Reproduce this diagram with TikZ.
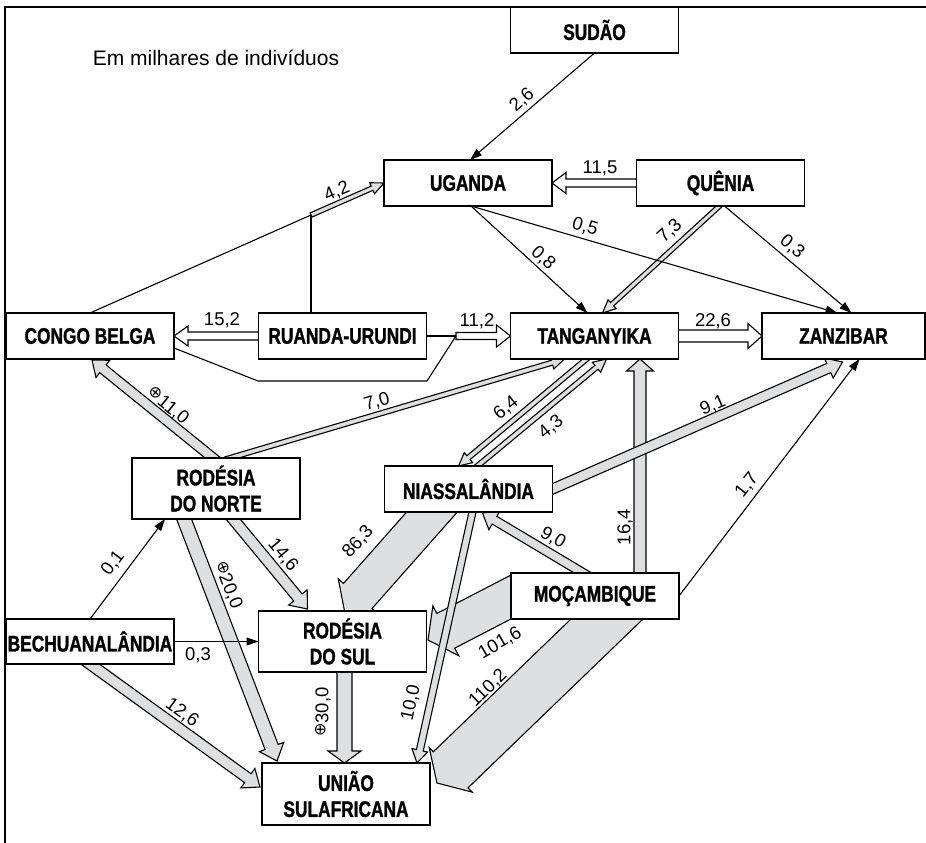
\documentclass[tikz,border=0pt]{standalone}
\usepackage{fontspec}
\setmainfont{Liberation Sans}
\newfontfamily\boxfont[FakeStretch=0.77,FakeBold=1.2]{Liberation Sans}
\newfontfamily\symfont{DejaVu Sans}
\usetikzlibrary{calc,arrows.meta}
\definecolor{arrgray}{RGB}{222,223,225}
\pgfdeclarelayer{bg}
\pgfsetlayers{bg,main}
% #1 style, #2 start, #3 end, #4 half body, #5 half head, #6 head length, #7 back extension
\newcommand\fatarr[7]{%
 \draw[#1] ($#2!-#7!#3!#4!90:#3$) -- ($#3!#6!#2!#4!90:#3$) -- ($#3!#6!#2!#5!90:#3$) -- #3
   -- ($#3!#6!#2!#5!-90:#3$) -- ($#3!#6!#2!#4!-90:#3$) -- ($#2!-#7!#3!#4!-90:#3$) -- cycle;}
\newcommand\opl{\raisebox{3pt}{\symfont\fontsize{16}{16}\selectfont ⊕}}
\begin{document}
\begin{tikzpicture}[x=1pt,y=-1pt,
  box/.style={draw,line width=1.3pt,fill=white,inner sep=0pt,outer sep=0pt,
    minimum width=168pt,minimum height=46pt,align=center,
    font={\boxfont\bfseries\fontsize{22.5pt}{26pt}\selectfont}},
  tallbox/.style={box,minimum height=61pt},
  lab/.style={inner sep=0pt,font={\fontsize{18.5pt}{18.5pt}\selectfont}},
  thin/.style={line width=1.1pt,-{Triangle[length=12pt,width=8pt]}},
  ln/.style={line width=1.1pt},
  gfill/.style={draw,line width=1.1pt,fill=arrgray,line join=miter},
  wfill/.style={draw,line width=1.1pt,fill=white,line join=miter}]
\useasboundingbox (0,0) rectangle (926,843);
% frame
\draw[line width=1.6pt] (5,843) -- (5,7) -- (926,7);
% boxes
\node[box] (sudan) at (594.5,30) {SUDÃO};
\node[box] (uganda) at (468,183) {UGANDA};
\node[box] (quenia) at (720.5,183) {QUÊNIA};
\node[box] (congo) at (90,336) {CONGO BELGA};
\node[box] (ruanda) at (342.5,336) {RUANDA-URUNDI};
\node[box] (tang) at (594.5,336) {TANGANYIKA};
\node[box,minimum width=163pt] (zanz) at (843.5,336) {ZANZIBAR};
\node[tallbox] (rn) at (216,488.5) {RODÉSIA\\DO NORTE};
\node[box] (nias) at (468.5,489) {NIASSALÂNDIA};
\node[box,minimum height=45pt] (bech) at (90,641.5) {BECHUANALÂNDIA};
\node[tallbox] (rs) at (342.5,641.5) {RODÉSIA\\DO SUL};
\node[tallbox,minimum height=62pt] (uniao) at (346,794) {UNIÃO\\SULAFRICANA};
\node[box] (moc) at (595,596) {MOÇAMBIQUE};
\node[lab,font={\fontsize{21pt}{21pt}\selectfont}] (title) at (216,58) {Em milhares de indivíduos};
% junction coordinates
\coordinate (j42) at (311,215);
\coordinate (j112) at (456,336);
\coordinate (pc1) at (258,381);
\coordinate (pc2) at (427,381);
\begin{pgfonlayer}{bg}
% wide arrows
\coordinate (s110) at ($(moc.south)+(12,0)$); \coordinate (e110) at ($(uniao.east)+(7,-11)$);
\fatarr{gfill}{(s110)}{(e110)}{25pt}{31pt}{19pt}{28pt}
\coordinate (s101) at ($(moc.west)+(0,1)$); \coordinate (e101) at ($(rs.east)+(1.5,-1.5)$);
\fatarr{gfill}{(s101)}{(e101)}{19.5pt}{28pt}{20pt}{12pt}
\coordinate (s86) at ($(nias.south)+(-36.5,0)$); \coordinate (e86) at ($(rs.north)+(2,0)$);
\fatarr{gfill}{(s86)}{(e86)}{19pt}{26pt}{20pt}{19pt}
% medium arrows
\coordinate (s164) at ($(moc.north)+(45,0)$); \coordinate (e164) at ($(tang.south)+(45.5,0)$);
\fatarr{gfill}{(s164)}{(e164)}{6pt}{13.5pt}{12pt}{2pt}
\coordinate (e91) at ($(zanz.south)+(-1,3)$);
\fatarr{gfill}{(nias.east)}{(e91)}{5pt}{11pt}{15pt}{3pt}
\coordinate (s110b) at ($(rn.north)+(-3,0)$); \coordinate (e110b) at ($(congo.south)+(2,1)$);
\fatarr{gfill}{(s110b)}{(e110b)}{5pt}{11pt}{14pt}{7pt}
\coordinate (s90) at ($(moc.north)+(-12,0)$); \coordinate (e90) at ($(nias.south)+(14,1)$);
\fatarr{gfill}{(s90)}{(e90)}{4.5pt}{11pt}{14pt}{9pt}
\coordinate (s146) at ($(rn.south)+(17,0)$); \coordinate (e146) at ($(rs.north)+(-35,-2)$);
\fatarr{gfill}{(s146)}{(e146)}{5.5pt}{12pt}{15pt}{6pt}
\coordinate (s200) at ($(rn.south)+(-32,0)$); \coordinate (e200) at ($(uniao.north)+(-69,-2)$);
\fatarr{gfill}{(s200)}{(e200)}{7pt}{13pt}{15pt}{4pt}
\coordinate (e126) at ($(uniao.west)+(-2,-7)$);
\fatarr{gfill}{(bech.south)}{(e126)}{5.5pt}{12pt}{15pt}{9pt}
\coordinate (s300) at ($(rs.south)+(2,0)$); \coordinate (e300) at ($(uniao.north)+(-1.5,0)$);
\fatarr{gfill}{(s300)}{(e300)}{7.5pt}{16.5pt}{12pt}{2pt}
% thin gray arrows
\coordinate (s100) at ($(nias.south)+(4,0)$); \coordinate (e100) at ($(uniao.north)+(71,0)$);
\fatarr{gfill}{(s100)}{(e100)}{3.5pt}{8pt}{13pt}{2pt}
\fatarr{gfill}{(j42)}{(uganda.west)}{2.3pt}{6pt}{13pt}{0pt}
\coordinate (s73) at ($(quenia.south)+(-1,0)$); \coordinate (e73) at ($(tang.north)+(8,0)$);
\fatarr{gfill}{(s73)}{(e73)}{2.3pt}{6pt}{13pt}{2pt}
\coordinate (s70) at ($(rn.north)+(14,0)$); \coordinate (e70) at ($(tang.south)+(-30,0)$);
\fatarr{gfill}{(s70)}{(e70)}{2.5pt}{6.5pt}{13pt}{5pt}
\coordinate (s64) at ($(tang.south)+(-8,0)$); \coordinate (e64) at ($(nias.north)+(-10,0)$);
\fatarr{gfill}{(s64)}{(e64)}{2.5pt}{6.5pt}{13pt}{3pt}
\coordinate (s43) at ($(nias.north)+(9,0)$); \coordinate (e43) at ($(tang.south)+(12,0)$);
\fatarr{gfill}{(s43)}{(e43)}{2.5pt}{6.5pt}{13pt}{3pt}
% open double arrows
\fatarr{wfill}{(quenia.west)}{(uganda.east)}{4pt}{10.5pt}{14pt}{1pt}
\fatarr{wfill}{(ruanda.west)}{(congo.east)}{4pt}{10pt}{14pt}{1pt}
\fatarr{wfill}{(j112)}{(tang.west)}{3.5pt}{11pt}{14pt}{0pt}
\fatarr{wfill}{(tang.east)}{(zanz.west)}{6pt}{12.5pt}{14pt}{1pt}
% plain lines
\draw[ln] (congo.north) -- (j42);
\draw[ln] ($(ruanda.north)+(-31.5,0)$) -- (j42);
\draw[ln] (ruanda.east) -- (j112);
\draw[ln] ($(congo.east)+(0,12)$) -- (pc1) -- (pc2) -- (j112);
% thin black arrows
\draw[thin] (sudan.south) -- ($(uganda.north)+(2,0)$);
\draw[thin] ($(uganda.south)+(3,0)$) -- ($(tang.north)+(-7,0)$);
\draw[thin] ($(uganda.south)+(3,0)$) -- ($(zanz.north)+(-6,0)$);
\draw[thin] ($(quenia.south)+(4,0)$) -- ($(zanz.north)+(8,0)$);
\draw[thin] (bech.north) -- ($(rn.south)+(-51,0)$);
\draw[thin] (bech.east) -- (rs.west);
\draw[thin] (moc.east) -- ($(zanz.south)+(16,0)$);
\end{pgfonlayer}
% labels
\node[lab,rotate=41] (l26) at (522,100) {2,6};
\node[lab] (l115) at (600,168) {11,5};
\node[lab,rotate=23] (l42) at (337,192) {4,2};
\node[lab,rotate=-16] (l05) at (585,227) {0,5};
\node[lab,rotate=-43] (l08) at (543,258) {0,8};
\node[lab,rotate=43] (l73) at (670,231) {7,3};
\node[lab,rotate=-40] (l03a) at (792,247) {0,3};
\node[lab] (l152) at (222,320) {15,2};
\node[lab] (l112) at (477,321) {11,2};
\node[lab] (l226) at (713,321) {22,6};
\node[lab,rotate=-39] (l110) at (168,406) {\opl11,0};
\node[lab,rotate=16] (l70) at (377,402) {7,0};
\node[lab,rotate=39] (l64) at (506,408) {6,4};
\node[lab,rotate=39] (l43) at (551,427) {4,3};
\node[lab,rotate=23] (l91) at (713,406) {9,1};
\node[lab,rotate=52] (l17) at (747,485) {1,7};
\node[lab,rotate=-30] (l90) at (553,538) {9,0};
\node[lab,rotate=90] (l164) at (625,527) {16,4};
\node[lab,rotate=48] (l863) at (358,542) {86,3};
\node[lab,rotate=-50] (l146) at (283,555) {14,6};
\node[lab,rotate=53] (l01) at (113,563) {0,1};
\node[lab,rotate=-68] (l200) at (228,585) {\opl20,0};
\node[lab] (l03b) at (198,655) {0,3};
\node[lab,rotate=-36] (l126) at (182,713) {12,6};
\node[lab,rotate=90] (l300) at (323,712) {\opl30,0};
\node[lab,rotate=78] (l100) at (411,703) {10,0};
\node[lab,rotate=30] (l1016) at (500,643) {101,6};
\node[lab,rotate=44] (l1102) at (488,688) {110,2};
\end{tikzpicture}
\end{document}
